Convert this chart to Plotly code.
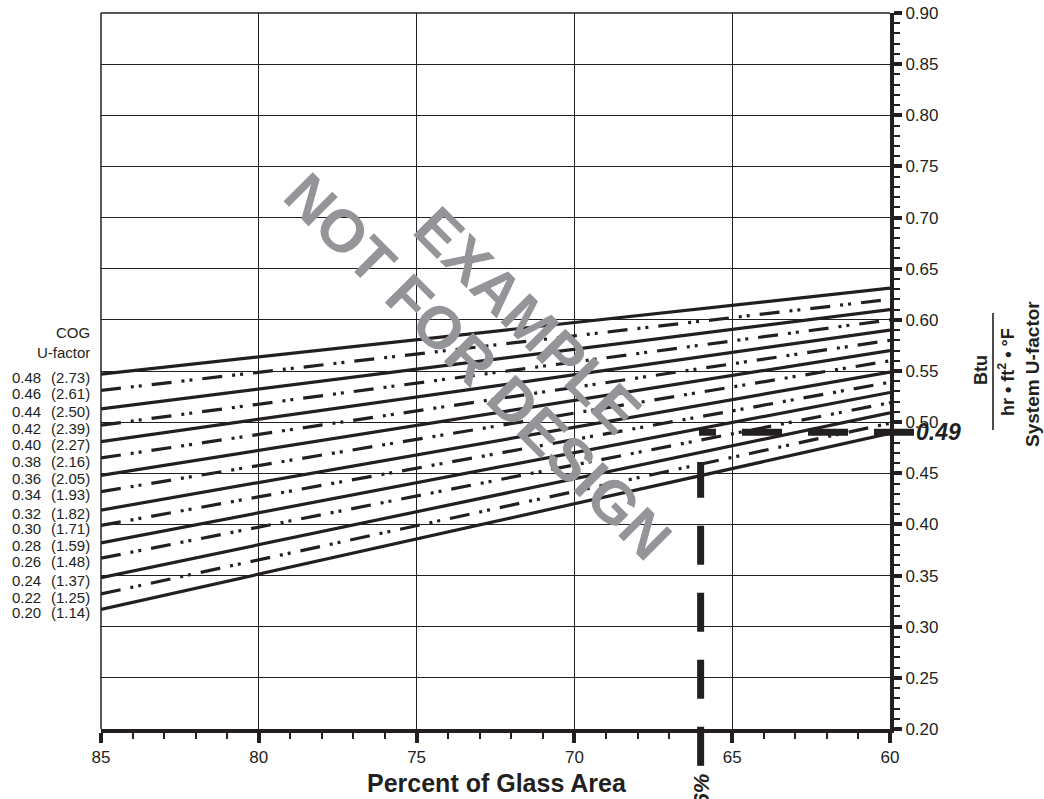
import plotly.graph_objects as go

# ---------------- data ----------------
pct_ends = [85, 60]                      # percent of glass area at chart ends
cog_ip = [0.20, 0.22, 0.24, 0.26, 0.28, 0.30, 0.32, 0.34, 0.36, 0.38, 0.40, 0.42, 0.44, 0.46, 0.48]
cog_si = ["1.14", "1.25", "1.37", "1.48", "1.59", "1.71", "1.82", "1.93", "2.05", "2.16",
          "2.27", "2.39", "2.50", "2.61", "2.73"]
sys_u_at_85 = [0.317, 0.332, 0.348, 0.367, 0.382, 0.399, 0.414, 0.432, 0.448, 0.465,
               0.481, 0.497, 0.513, 0.531, 0.547]
sys_u_at_60 = [0.489, 0.499, 0.509, 0.519, 0.529, 0.539, 0.549, 0.560, 0.570, 0.580,
               0.590, 0.600, 0.610, 0.620, 0.631]
x_range = [85, 60]
y_range = [0.20, 0.90]
example_pct = 66
example_u = 0.49
example_vert_top = 0.461
example_vert_bottom = 0.164

INK = "#231f20"
FONT = "Liberation Sans, Arial, sans-serif"
DASHDOT = "20px,10px,3px,5px,3px,10px"

W, H = 1044, 799
L, R, T, B = 101, 154, 13, 70
PW, PH = W - L - R, H - T - B

def px_x(px):
    return (px - L) / PW

def px_y(py):
    return (H - B - py) / PH

fig = go.Figure()

for k, (a, b) in enumerate(zip(sys_u_at_85, sys_u_at_60)):
    fig.add_trace(go.Scatter(
        x=pct_ends, y=[a, b], mode="lines",
        line=dict(color=INK, width=3.2, dash="solid" if k % 2 == 0 else DASHDOT),
        hoverinfo="skip", showlegend=False))

def ypaper(v):
    return (v - y_range[0]) / (y_range[1] - y_range[0])

shapes = [
    # thin frame top and left
    dict(type="line", xref="paper", yref="paper", x0=0, x1=1, y0=1, y1=1,
         line=dict(color=INK, width=1.5)),
    dict(type="line", xref="paper", yref="paper", x0=0, x1=0, y0=0, y1=1,
         line=dict(color=INK, width=1.5)),
    # example dashed lines
    dict(type="line", xref="paper", yref="y", x0=px_x(914), x1=px_x(699),
         y0=example_u, y1=example_u, line=dict(color=INK, width=7, dash="40px,26px")),
    dict(type="line", xref="x", yref="paper", x0=example_pct, x1=example_pct,
         y0=ypaper(example_vert_bottom), y1=ypaper(example_vert_top),
         line=dict(color=INK, width=7, dash="39px,28px")),
    # fraction bar of units
    dict(type="line", xref="paper", yref="paper", x0=px_x(993), x1=px_x(993),
         y0=px_y(313), y1=px_y(430), line=dict(color=INK, width=1.6)),
]

ann = []
lab_font = dict(family=FONT, size=15, color=INK)
ann.append(dict(text="COG", xref="paper", yref="paper", x=px_x(92), y=px_y(332),
                xanchor="right", yanchor="middle", showarrow=False, font=lab_font))
ann.append(dict(text="U-factor", xref="paper", yref="paper", x=px_x(92), y=px_y(352),
                xanchor="right", yanchor="middle", showarrow=False, font=lab_font))
for ip, si, yl in zip(cog_ip, cog_si, sys_u_at_85):
    ann.append(dict(text=f"{ip:.2f}", xref="paper", yref="y", x=px_x(43), y=yl - 0.003,
                    xanchor="right", yanchor="middle", showarrow=False, font=lab_font))
    ann.append(dict(text=f"({si})", xref="paper", yref="y", x=px_x(92), y=yl - 0.003,
                    xanchor="right", yanchor="middle", showarrow=False, font=lab_font))

# example values
ann.append(dict(text=f"<b><i>{example_u:.2f}</i></b>", xref="paper", yref="y", x=px_x(914),
                y=example_u, xanchor="left", yanchor="middle", showarrow=False,
                font=dict(family=FONT, size=23, color=INK)))
ann.append(dict(text=f"<b><i>{example_pct}%</i></b>", xref="x", yref="paper", x=example_pct,
                y=px_y(772), xanchor="center", yanchor="top", textangle=-90,
                showarrow=False, font=dict(family=FONT, size=22, color=INK)))

# right axis title
ann.append(dict(text="<b>System U-factor</b>", xref="paper", yref="paper", x=px_x(1032),
                y=px_y(374), xanchor="center", yanchor="middle", textangle=-90,
                showarrow=False, font=dict(family=FONT, size=19, color=INK)))
ann.append(dict(text="<b>Btu</b>", xref="paper", yref="paper", x=px_x(981),
                y=px_y(370), xanchor="center", yanchor="middle", textangle=-90,
                showarrow=False, font=dict(family=FONT, size=18, color=INK)))
ann.append(dict(text="<b>hr • ft<sup>2</sup> • °F</b>", xref="paper", yref="paper",
                x=px_x(1006), y=px_y(372), xanchor="center", yanchor="middle",
                textangle=-90, showarrow=False, font=dict(family=FONT, size=18, color=INK)))

# x axis title
ann.append(dict(text="<b>Percent of Glass Area</b>", xref="paper", yref="paper",
                x=px_x(497), y=px_y(783), xanchor="center", yanchor="middle",
                showarrow=False, font=dict(family=FONT, size=25, color=INK)))

# watermark (two lines, rotated)
wm_font = dict(family=FONT, size=60, color="#939598")
ann.append(dict(text="<b>EXAMPLE</b>", xref="paper", yref="paper",
                x=px_x(528), y=px_y(320), xanchor="center", yanchor="middle",
                textangle=45, showarrow=False, font=wm_font))
ann.append(dict(text="<b>NOT FOR DESIGN</b>", xref="paper", yref="paper",
                x=px_x(478), y=px_y(366), xanchor="center", yanchor="middle",
                textangle=45, showarrow=False, font=wm_font))

fig.update_layout(
    width=W, height=H,
    margin=dict(l=L, r=R, t=T, b=B, autoexpand=False),
    plot_bgcolor="white", paper_bgcolor="white",
    showlegend=False,
    shapes=shapes, annotations=ann,
    xaxis=dict(range=x_range, tick0=60, dtick=5, showgrid=True, gridcolor=INK, gridwidth=1.3,
               zeroline=False, showline=True, linecolor=INK, linewidth=4, automargin=False,
               ticks="outside", ticklen=10, tickwidth=3.5, tickcolor=INK,
               tickfont=dict(family=FONT, size=17, color=INK), ticklabeloverflow="allow",
               minor=dict(dtick=1, ticks="outside", ticklen=6, tickwidth=2, tickcolor=INK,
                          showgrid=False)),
    yaxis=dict(range=y_range, side="right", tick0=0.2, dtick=0.05, tickformat=".2f",
               showgrid=True, gridcolor=INK, gridwidth=1.3, zeroline=False, automargin=False,
               showline=True, linecolor=INK, linewidth=4, ticklabeloverflow="allow",
               ticks="outside", ticklen=8, tickwidth=3.5, tickcolor=INK,
               tickfont=dict(family=FONT, size=17, color=INK),
               minor=dict(dtick=0.01, ticks="outside", ticklen=6, tickwidth=1.5, tickcolor=INK,
                          showgrid=False)),
)

# remove the default 8px page margin so the figure fills the window exactly
fig.write_html("out.html", config={"displayModeBar": False},
               post_script="document.body.style.margin='0px';")
